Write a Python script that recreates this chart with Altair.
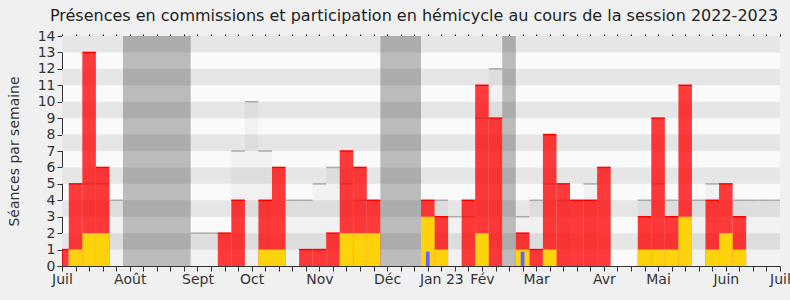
import altair as alt
import pandas as pd

# ---- data (one value per week, week 0 = first week of July 2022) ----
weeks = list(range(54))
red = [1, 5, 13, 6, 0,  0, 0, 0, 0, 0,  0, 0, 2, 4, 0,  4, 6, 0, 1, 1,
       2, 7, 6, 4, 0,  0, 0, 4, 3, 0,  4, 11, 9, 0, 2,  1, 8, 5, 4, 4,
       6, 0, 0, 3, 9,  3, 11, 0, 4, 5,  3, 0, 0, 0]
yellow = [0, 1, 2, 2, 0,  0, 0, 0, 0, 0,  0, 0, 0, 0, 0,  1, 1, 0, 0, 0,
          0, 2, 2, 2, 0,  0, 0, 3, 1, 0,  0, 2, 0, 0, 1,  0, 1, 0, 0, 0,
          0, 0, 0, 1, 1,  1, 3, 0, 1, 2,  1, 0, 0, 0]
gray = [0, 0, 5, 5, 4,  0, 0, 0, 0, 0,  2, 2, 0, 7, 10,  7, 0, 4, 4, 5,
        6, 5, 4, 0, 0,  0, 0, 0, 4, 3,  3, 9, 12, 0, 3,  4, 5, 4, 0, 5,
        0, 0, 0, 4, 5,  4, 0, 4, 5, 0,  4, 4, 4, 4]
blue_weeks = [27, 34]
blue_vals = [0.87, 0.87]
vac_start = [4.5, 23.5, 32.5]
vac_end = [9.5, 26.5, 33.5]
month_ticks = [0, 5, 10, 14, 19, 24, 28, 31, 35, 40, 44, 49, 53]
month_labels = ["Juil", "Août", "Sept", "Oct", "Nov", "Déc", "Jan 23",
                "Fév", "Mar", "Avr", "Mai", "Juin", "Juil"]
y_max = 14
n_weeks = 53

FONT = "DejaVu Sans"

df = pd.DataFrame({"w": weeks, "red": red, "yellow": yellow, "gray": gray})
df["x0"] = (df["w"] - 0.5).clip(lower=0)
df["x1"] = (df["w"] + 0.5).clip(upper=n_weeks)
df["zero"] = 0

stripes = pd.DataFrame({"y0": [i for i in range(1, y_max, 2)]})
stripes["y1"] = stripes["y0"] + 1
stripes["x0"] = 0
stripes["x1"] = n_weeks

vac = pd.DataFrame({"x0": vac_start, "x1": vac_end})
vac["y0"] = 0
vac["y1"] = y_max

blue = pd.DataFrame({"w": blue_weeks, "v": blue_vals})
blue["x0"] = blue["w"] - 0.14
blue["x1"] = blue["w"] + 0.14
blue["zero"] = 0

xs = alt.Scale(domain=[0, n_weeks], nice=False, zero=False)
ys = alt.Scale(domain=[0, y_max], nice=False)

label_expr = "".join(f"datum.value == {t} ? '{l}' : " for t, l in zip(month_ticks, month_labels)) + "''"

bottom_axis = alt.Axis(orient="bottom", values=weeks, labelExpr=label_expr,
                       labelOverlap=False, labelFlush=False, labelBound=False,
                       tickSize=5, labelPadding=1, title=None, grid=False)
left_axis = alt.Axis(values=list(range(y_max + 1)), tickSize=5, labelPadding=2,
                     title="Séances par semaine", titlePadding=16, grid=False,
                     labelOverlap=False, labelFlush=False)
top_axis = alt.Axis(orient="top", values=weeks, labels=False, domain=False,
                    tickSize=2, tickColor="#000000", title=None, grid=False)

base_stripes = alt.Chart(stripes).mark_rect(color="#e6e6e6").encode(
    x=alt.X("x0:Q", scale=xs, axis=bottom_axis),
    x2="x1:Q",
    y=alt.Y("y0:Q", scale=ys, axis=left_axis),
    y2="y1:Q",
)

gdf = df[df["gray"] > 0]
gray_bars = alt.Chart(gdf).mark_rect(color="#000000", opacity=0.035).encode(
    x=alt.X("x0:Q", scale=xs, axis=None), x2="x1:Q",
    y=alt.Y("gray:Q", scale=ys, axis=None), y2="zero:Q",
)
gray_tops = alt.Chart(gdf).mark_rule(color="#aaaaaa", strokeWidth=1.5).encode(
    x=alt.X("x0:Q", scale=xs, axis=None), x2="x1:Q",
    y=alt.Y("gray:Q", scale=ys, axis=None),
)

rdf = df[df["red"] > 0]
red_bars = alt.Chart(rdf).mark_rect(color="#ff0000", opacity=0.77).encode(
    x=alt.X("x0:Q", scale=xs, axis=None), x2="x1:Q",
    y=alt.Y("red:Q", scale=ys, axis=None), y2="zero:Q",
)
red_tops = alt.Chart(rdf).mark_rule(color="#ff0000", strokeWidth=1.5).encode(
    x=alt.X("x0:Q", scale=xs, axis=None), x2="x1:Q",
    y=alt.Y("red:Q", scale=ys, axis=None),
)

ydf = df[df["yellow"] > 0]
yellow_bars = alt.Chart(ydf).mark_rect(color="#ffd30c").encode(
    x=alt.X("x0:Q", scale=xs, axis=None), x2="x1:Q",
    y=alt.Y("yellow:Q", scale=ys, axis=None), y2="zero:Q",
)

blue_bars = alt.Chart(blue).mark_rect(color="#6464ff").encode(
    x=alt.X("x0:Q", scale=xs, axis=None), x2="x1:Q",
    y=alt.Y("v:Q", scale=ys, axis=None), y2="zero:Q",
)

vac_rects = alt.Chart(vac).mark_rect(color="#000000", opacity=0.25).encode(
    x=alt.X("x0:Q", scale=xs, axis=top_axis), x2="x1:Q",
    y=alt.Y("y0:Q", scale=ys, axis=None), y2="y1:Q",
)

chart = alt.layer(
    base_stripes, gray_bars, gray_tops, red_bars, red_tops,
    yellow_bars, blue_bars, vac_rects,
).resolve_axis(x="independent", y="independent").properties(
    width=718,
    height=230,
    autosize=alt.AutoSizeParams(type="none"),
    padding={"left": 62, "top": 36, "right": 10, "bottom": 34},
    background="#f0f0f0",
    title=alt.TitleParams(
        "Présences en commissions et participation en hémicycle au cours de la session 2022-2023",
        font=FONT, fontSize=16, fontWeight="normal", color="#222222",
        anchor="middle", frame="group", offset=5, dx=-7,
    ),
).configure_view(
    fill="#fafafa", stroke=None,
).configure_axis(
    labelFont=FONT, labelFontSize=14, labelColor="#333333",
    titleFont=FONT, titleFontSize=14, titleColor="#333333", titleFontWeight="normal",
    tickColor="#333333", domainColor="#333333",
)

chart.save("out.html", embed_options={"renderer": "svg", "actions": False})
